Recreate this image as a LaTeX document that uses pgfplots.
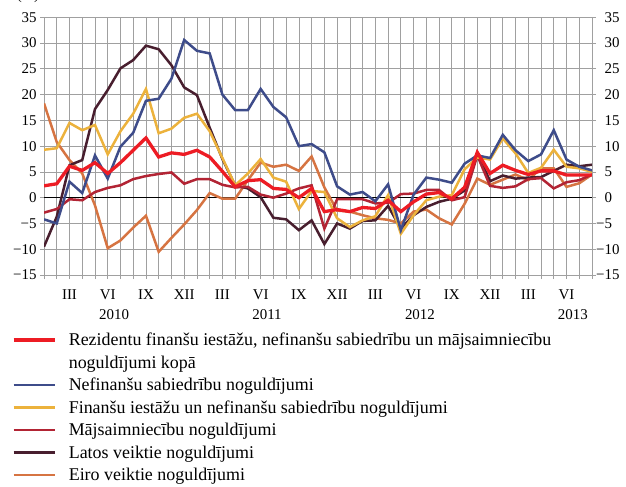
\documentclass[border=0pt]{standalone}
\usepackage{pgfplots}
\pgfplotsset{compat=1.18}
\usepackage{fontspec}
\setmainfont{Liberation Serif}
\definecolor{cRed}{RGB}{237,28,36}
\definecolor{cBlue}{RGB}{62,76,138}
\definecolor{cYel}{RGB}{236,178,60}
\definecolor{cCrim}{RGB}{178,36,52}
\definecolor{cPur}{RGB}{72,30,46}
\definecolor{cOra}{RGB}{214,116,66}
\definecolor{cGrid}{RGB}{160,160,160}
\pgfplotstableread{
i red blue yel crim pur ora
0 2.3 -4.2 9.3 -2.9 -9.5 18.3
1 2.7 -5.0 9.6 -2.2 -3.7 10.8
2 6.1 3.1 14.5 -0.3 6.3 7.3
3 5.3 0.9 13.1 -0.5 7.3 4.7
4 6.8 8.2 14.1 1.1 17.2 -1.5
5 4.7 3.7 8.4 1.9 20.9 -9.8
6 6.8 9.9 12.9 2.4 25.1 -8.3
7 9.2 12.6 16.3 3.6 26.7 -5.8
8 11.6 18.8 21.1 4.2 29.5 -3.5
9 7.9 19.2 12.5 4.6 28.8 -10.5
10 8.7 23.1 13.4 4.9 25.7 -7.8
11 8.4 30.6 15.5 2.7 21.4 -5.2
12 9.2 28.5 16.3 3.6 19.9 -2.4
13 7.9 28.0 12.9 3.6 13.6 0.9
14 5.1 20.0 7.7 2.5 7.5 -0.2
15 2.1 17.0 2.4 2.0 2.4 -0.2
16 3.3 17.0 4.7 2.1 1.8 3.4
17 3.5 21.1 7.5 0.6 0.1 6.8
18 1.8 17.6 3.9 0.0 -3.9 6.0
19 1.6 15.6 3.1 0.8 -4.2 6.4
20 0.0 10.0 -2.2 1.8 -6.3 5.2
21 1.8 10.4 1.3 2.4 -4.4 8.0
22 -2.7 8.8 1.1 -6.0 -9.0 2.0
23 -2.3 2.2 -4.0 -0.3 -5.0 -2.5
24 -2.7 0.6 -5.7 -0.3 -6.0 -2.7
25 -1.9 1.1 -4.4 -0.3 -4.5 -3.4
26 -2.1 -0.7 -3.6 -1.1 -4.4 -4.0
27 -0.5 2.6 0.5 -1.0 -1.6 -4.3
28 -2.7 -6.3 -7.0 0.7 -6.0 -5.0
29 -0.8 0.6 -3.4 0.8 -3.4 -2.7
30 0.7 3.9 -0.5 1.5 -1.8 -2.3
31 1.0 3.5 0.2 1.5 -0.8 -4.0
32 -0.2 2.9 0.5 -0.5 -0.2 -5.2
33 2.0 6.6 5.5 0.1 1.4 -1.2
34 8.8 8.2 7.8 8.2 8.7 3.7
35 4.7 7.7 7.4 2.3 3.2 2.5
36 6.3 12.2 11.5 1.9 4.3 3.5
37 5.3 9.2 8.6 2.2 3.7 4.5
38 4.5 7.1 4.8 3.6 3.9 3.4
39 5.2 8.4 5.8 3.8 4.0 5.7
40 5.2 13.1 9.3 1.8 5.2 5.7
41 4.4 7.4 6.0 3.0 6.4 2.1
42 4.4 6.0 5.7 3.4 6.1 2.8
43 4.4 5.3 5.0 4.5 6.4 4.5
}\data
\begin{document}
\begin{tikzpicture}
\useasboundingbox (0bp,0bp) rectangle (626bp,487bp);
\node[anchor=base, font=\fontsize{15}{18}\selectfont, inner sep=0pt] at (28bp,487.5bp) {(\%)};
\begin{axis}[
  at={(44bp,212bp)}, anchor=south west,
  scale only axis, width=548bp, height=257.7bp,
  xmin=0, xmax=43, ymin=-15, ymax=35,
  axis line style={draw=cGrid},
  tick style={draw=cGrid, line width=0.7bp},
  tick align=outside, major tick length=4bp,
  grid=major, major grid style={draw=cGrid, line width=0.7bp},
  xtick={0,...,43},
  xticklabels={,,III,,,VI,,,IX,,,XII,,,III,,,VI,,,IX,,,XII,,,III,,,VI,,,IX,,,XII,,,III,,,VI,,},
  extra x ticks={5.5,17.5,29.5,41.5},
  extra x tick labels={2010,2011,2012,2013},
  extra x tick style={major tick length=0pt, grid=none, xticklabel style={yshift=-24bp}},
  xticklabel style={yshift=-7bp},
  ytick={-15,-10,...,35},
  yticklabels={−15,−10,−5,0,5,10,15,20,25,30,35},
  ytick pos=left, xtick pos=bottom,
  tick label style={font=\fontsize{15}{18}\selectfont},
  legend cell align=left,
  legend style={at={(-0.0584,-0.2181)}, anchor=north west, draw=none, fill=none,
    inner sep=0pt, outer sep=0pt, row sep=5bp, column sep=12.5bp,
    font=\fontsize{18}{22}\selectfont,
    nodes={inner sep=0pt, text height=14.5bp, text depth=3bp}},
  legend image code/.code={\draw[#1] (0bp,0bp) -- (41bp,0bp);},
]
\addplot[black, line width=0.8bp, forget plot] coordinates {(0,0) (43,0)};
\addplot[cOra, line width=2.5bp, forget plot] table[x=i,y=ora] {\data};
\addplot[cPur, line width=2.5bp, forget plot] table[x=i,y=pur] {\data};
\addplot[cCrim, line width=2.5bp, forget plot] table[x=i,y=crim] {\data};
\addplot[cYel, line width=2.5bp, forget plot] table[x=i,y=yel] {\data};
\addplot[cBlue, line width=2.5bp, forget plot] table[x=i,y=blue] {\data};
\addplot[cRed, line width=3.3bp, forget plot] table[x=i,y=red] {\data};
\addlegendimage{cRed, line width=3.3bp}
\addlegendentry{Rezidentu finanšu iestāžu, nefinanšu sabiedrību un mājsaimniecību}
\addlegendimage{empty legend}
\addlegendentry{noguldījumi kopā}
\addlegendimage{cBlue, line width=2.5bp}
\addlegendentry{Nefinanšu sabiedrību noguldījumi}
\addlegendimage{cYel, line width=2.5bp}
\addlegendentry{Finanšu iestāžu un nefinanšu sabiedrību noguldījumi}
\addlegendimage{cCrim, line width=2.5bp}
\addlegendentry{Mājsaimniecību noguldījumi}
\addlegendimage{cPur, line width=2.5bp}
\addlegendentry{Latos veiktie noguldījumi}
\addlegendimage{cOra, line width=2.5bp}
\addlegendentry{Eiro veiktie noguldījumi}
\end{axis}
\begin{axis}[
  at={(44bp,212bp)}, anchor=south west,
  scale only axis, width=548bp, height=257.7bp,
  xmin=0, xmax=43, ymin=-15, ymax=35,
  axis y line*=right, axis x line=none,
  axis line style={draw=cGrid, -},
  tick style={draw=cGrid, line width=0.7bp},
  tick align=outside, major tick length=4bp,
  ytick={-15,-10,...,35},
  yticklabels={\llap{−}15,\llap{−}10,\llap{−}5,0,5,10,15,20,25,30,35},
  yticklabel style={anchor=west, xshift=5bp},
  tick label style={font=\fontsize{15}{18}\selectfont},
]
\end{axis}
\end{tikzpicture}
\end{document}
